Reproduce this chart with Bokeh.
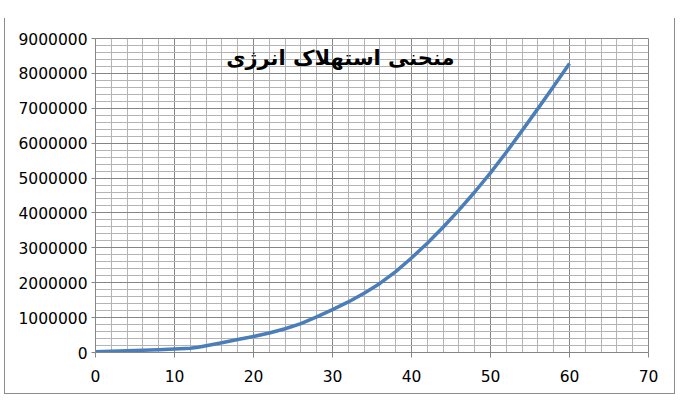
from bokeh.plotting import figure
from bokeh.models import Range1d, SingleIntervalTicker, NumeralTickFormatter, Label
from bokeh.embed import file_html
from bokeh.resources import INLINE

title_text = "منحنی استهلاک انرژی"
x_vals = [0, 2, 4, 6, 8, 10, 12, 13, 14, 16, 18, 20, 22, 24, 26, 28, 30,
          32, 34, 36, 38, 40, 42, 44, 46, 48, 50, 52, 54, 56, 58, 60]
y_vals = [20000, 35000, 50000, 65000, 80000, 100000, 125000, 150000, 195000,
          280000, 370000, 460000, 560000, 680000, 830000, 1020000, 1230000,
          1450000, 1700000, 1980000, 2320000, 2710000, 3130000, 3590000,
          4080000, 4600000, 5150000, 5740000, 6360000, 6990000, 7630000, 8280000]
x_min, x_max, x_step = 0, 70, 10
y_min, y_max, y_step = 0, 9000000, 1000000

p = figure(width=671, height=376, output_backend="svg", toolbar_location=None,
           x_range=Range1d(x_min, x_max), y_range=Range1d(y_min, y_max),
           min_border_left=90, min_border_right=28, min_border_top=20,
           min_border_bottom=42)
p.styles = {"margin-left": "4px", "margin-top": "18px",
            "border-left": "1px solid #8c8c8c",
            "border-right": "1px solid #8c8c8c",
            "border-bottom": "1px solid #8c8c8c"}
p.background_fill_color = "white"
p.border_fill_color = "white"
p.outline_line_color = "#868686"

p.xaxis.ticker = SingleIntervalTicker(interval=x_step, num_minor_ticks=5)
p.yaxis.ticker = SingleIntervalTicker(interval=y_step, num_minor_ticks=5)
p.xgrid.ticker = p.xaxis.ticker
p.ygrid.ticker = p.yaxis.ticker
p.yaxis.formatter = NumeralTickFormatter(format="0")

for ax in (p.xaxis, p.yaxis):
    ax.axis_line_color = "#868686"
    ax.major_tick_line_color = "#868686"
    ax.minor_tick_line_color = None
    ax.major_tick_in = 0
    ax.major_label_text_font = "DejaVu Sans"
    ax.major_label_text_font_size = "15.5px"
    ax.major_label_text_color = "black"
p.xaxis.major_tick_out = 5
p.xaxis.major_label_standoff = 12
p.yaxis.major_tick_out = 4
p.yaxis.major_label_standoff = 4

for g in (p.xgrid, p.ygrid):
    g.grid_line_color = "#868686"
    g.grid_line_alpha = 1.0
    g.minor_grid_line_color = "#b4b4b4"

p.line(x_vals, y_vals, line_color="#4a7ebb", line_width=3.5, line_join="round")

p.add_layout(Label(x=31, y=8430000, text=title_text, text_align="center",
                   text_baseline="middle", text_font="DejaVu Sans",
                   text_font_style="bold", text_font_size="21px",
                   text_color="black"))

open("out.html", "w").write(file_html(p, INLINE))
